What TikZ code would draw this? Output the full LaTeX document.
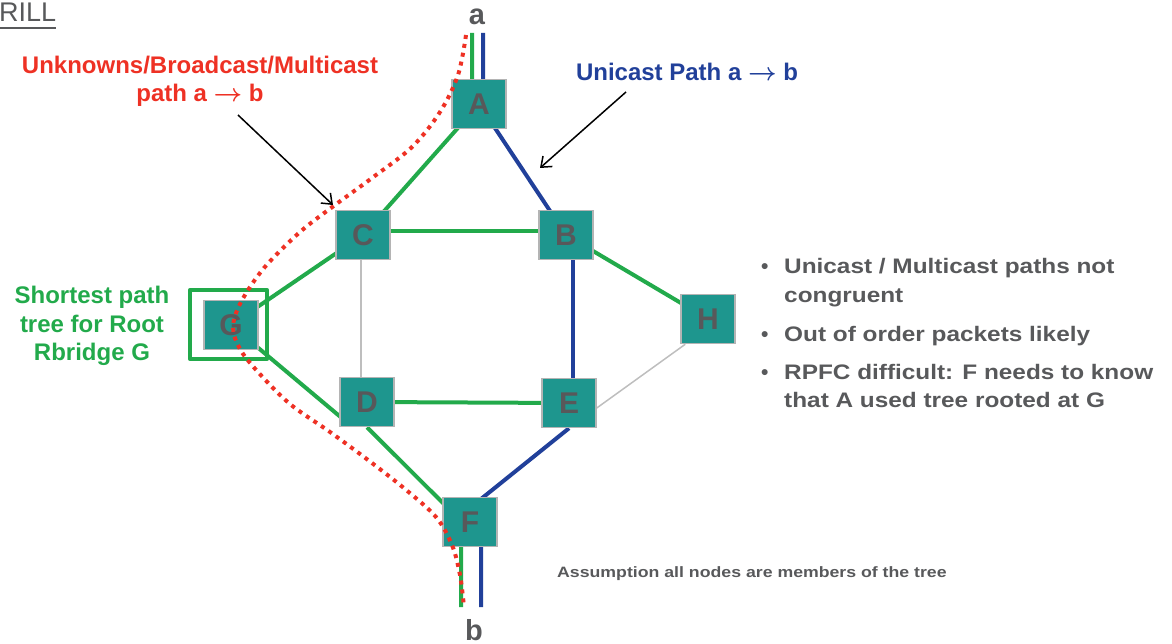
\documentclass[tikz,border=0pt]{standalone}
\usepackage{fontspec}
\setmainfont{Liberation Sans}
\usepackage{graphicx}
\usetikzlibrary{calc,arrows.meta}
\pgfdeclarelayer{links}
\pgfsetlayers{links,main}

\definecolor{boxteal}{HTML}{1E968E}
\definecolor{boxedge}{HTML}{B4B4B4}
\definecolor{lettergrey}{HTML}{58585A}
\definecolor{textgrey}{HTML}{58595B}
\definecolor{treegreen}{HTML}{22AA4B}
\definecolor{uniblue}{HTML}{21409A}
\definecolor{mred}{HTML}{EE3124}
\definecolor{linkgrey}{HTML}{BEBEBE}

\newcommand{\pathto}{\mbox{\boldmath$\rightarrow$}}

\begin{document}
\begin{tikzpicture}[x=1pt,y=-1pt,
  rbridge/.style={rectangle, fill=boxteal, draw=boxedge, line width=1.5pt,
    minimum width=54pt, minimum height=49pt, inner sep=0pt,
    font=\bfseries\fontsize{30}{30}\selectfont, text=lettergrey},
  treelink/.style={draw=treegreen, line width=4pt, line join=round},
  unilink/.style={draw=uniblue, line width=4pt, line join=round},
  sparelink/.style={draw=linkgrey, line width=1.5pt},
  mcastpath/.style={draw=mred, line width=4pt, dash pattern=on 4pt off 5pt},
  callout/.style={draw=black, line width=1.5pt, -{Straight Barb[length=9pt,width=14pt,line width=1.5pt]}},
  headline/.style={inner sep=0pt, anchor=base, font=\bfseries\fontsize{24}{28}\selectfont},
  bullettext/.style={inner sep=0pt, anchor=base west, text=textgrey, font=\bfseries\fontsize{21}{21}\selectfont},
]
\useasboundingbox (0,0) rectangle (1172,644);

% RBridges
\node[rbridge] (A) at (479,104) {A};
\node[rbridge] (B) at (566,235) {B};
\node[rbridge] (C) at (363,235) {C};
\node[rbridge] (D) at (367,402) {D};
\node[rbridge] (E) at (569,403) {E};
\node[rbridge] (F) at (470,522) {F};
\node[rbridge] (G) at (231,325) {G};
\node[rbridge] (H) at (708,319) {H};

% ingress / egress trunks
\coordinate (gtop) at (472,33);
\coordinate (gA) at (472,112);
\coordinate (btop) at (483,33);
\coordinate (bA) at (483,110);
\coordinate (gF) at (461,521);
\coordinate (gbot) at (461,607);
\coordinate (bF) at (481,499);
\coordinate (bbot) at (481,607);

\begin{pgfonlayer}{links}
  % shortest path tree rooted at G
  \draw[treelink] (gtop) -- (gA) -- (C.center);
  \draw[treelink] (G.center) -- (C.center);
  \draw[treelink] (G.center) -- ($(D.south west)+(4,-8)$);
  \draw[treelink] ($(C.east)+(0,-4)$) -- ($(B.west)+(0,-4)$);
  \draw[treelink] (D.center) -- (E.center);
  \draw[treelink] (D.south) -- (gF) -- (gbot);
  \draw[treelink] (B.center) -- (H.center);
  % unicast path
  \draw[unilink] (btop) -- (bA) -- (B.center);
  \draw[unilink] ($(B.center)+(7,0)$) -- ($(E.center)+(4,0)$);
  \draw[unilink] (E.south) -- (bF) -- (bbot);
  % links outside both paths
  \draw[sparelink] ($(C.center)+(-2,0)$) -- ($(D.center)+(-6,0)$);
  \draw[sparelink] ($(E.east)+(0,5)$) -- ($(H.south west)+(5,0)$);
\end{pgfonlayer}

% frame around the tree root
\draw[treelink] ($(G.south west)+(-13,9)$) rectangle ($(G.north east)+(8,-10)$);

% multicast distribution path
\draw[mcastpath] plot[smooth, tension=0.55] coordinates {
  (466,35) (458,75) (440,112) (412,147) (372,178) (335,205) (300,232)
  (264,268) (241,302) (233,327) (240,349) (258,372) (290,404) (330,432)
  (368,460) (405,489) (436,517) (452,545) (460,575) (464,607)};

% end stations
\node[headline, text=textgrey, font=\bfseries\fontsize{29}{29}\selectfont] (sa) at (477,25) {a};
\node[headline, text=textgrey, font=\bfseries\fontsize{29}{29}\selectfont] (sb) at (474,640) {b};

% title
\node[inner sep=0pt, anchor=base west, text=textgrey, font=\fontsize{27}{27}\selectfont] (title) at (-1,22) {RILL};
\draw[textgrey, line width=2.5pt] ($(title.base west)+(0,6)$) -- ($(title.base east)+(0,6)$);

% path labels and callouts
\node[headline, text=mred] (ml1) at (200,74) {Unknowns/Broadcast/Multicast};
\node[headline, text=mred] (ml2) at (200,102) {path a \pathto{} b};
\node[headline, text=uniblue] (ul) at (687,81) {Unicast Path a \pathto{} b};
\coordinate (mtail) at (238,115);
\coordinate (mtip) at (333,205);
\coordinate (utail) at (626,92);
\coordinate (utip) at (540,168);
\draw[callout] (mtail) -- (mtip);
\draw[callout] (utail) -- (utip);

\node[headline, text=treegreen] (gl1) at (92,303) {Shortest path};
\node[headline, text=treegreen] (gl2) at (92,332) {tree for Root};
\node[headline, text=treegreen] (gl3) at (92,360) {Rbridge G};

% observations
\node[bullettext] (d1) at (761,274) {•};
\node[bullettext] (d2) at (761,341) {•};
\node[bullettext] (d3) at (761,379) {•};
\node[bullettext] (t1a) at (784,274) {\scalebox{1.16}[1]{Unicast / Multicast paths not}};
\node[bullettext] (t1b) at (784,302) {\scalebox{1.16}[1]{congruent}};
\node[bullettext] (t2) at (784,341) {\scalebox{1.16}[1]{Out of order packets likely}};
\node[bullettext] (t3a) at (784,379) {\scalebox{1.16}[1]{RPFC difficult: F needs to know}};
\node[bullettext] (t3b) at (784,407) {\scalebox{1.16}[1]{that A used tree rooted at G}};

\node[bullettext, font=\bfseries\fontsize{15}{15}\selectfont] (note) at (557,577)
  {\scalebox{1.18}[1]{Assumption all nodes are members of the tree}};
\end{tikzpicture}
\end{document}
